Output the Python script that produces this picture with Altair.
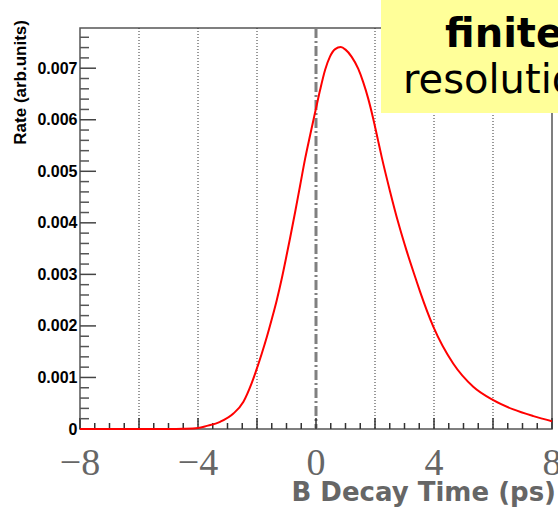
import altair as alt
import pandas as pd

# ---- data ----
t_vals = [-8, -7, -6, -5, -4.5, -4, -3.7, -3.25, -2.8, -2.46, -2.18, -2.0, -1.84, -1.67,
          -1.5, -1.33, -1.16, -1.0, -0.88, -0.71, -0.54, -0.37, -0.2, 0.0, 0.14, 0.31,
          0.47, 0.65, 0.84, 1.0, 1.21, 1.43, 1.6, 1.77, 1.94, 2.11, 2.23, 2.51, 2.79,
          3.07, 3.39, 3.53, 3.98, 4.65, 5.33, 6.01, 6.69, 7.37, 8.0]
rate = [0, 0, 0, 0, 0.000005, 0.00002, 0.00006, 0.00014, 0.0003, 0.00053, 0.00089, 0.00118,
        0.00146, 0.00178, 0.00213, 0.0025, 0.00292, 0.00336, 0.0037, 0.0042, 0.00472,
        0.00524, 0.0057, 0.00622, 0.00658, 0.00697, 0.00722, 0.00737, 0.00741, 0.00736,
        0.00722, 0.00699, 0.00673, 0.00641, 0.00602, 0.00558, 0.00527, 0.00461, 0.00400,
        0.00346, 0.0029, 0.00266, 0.00198, 0.00127, 0.00082, 0.00056, 0.00038, 0.00025,
        0.00015]

x_label_vals = [-8, -4, 0, 4, 8]
x_label_text = ["\u22128", "\u22124", "0", "4", "8"]
x_major_ticks = [-8, -6, -4, -2, 0, 2, 4, 6, 8]
x_minor_ticks = [v / 2 for v in range(-16, 17) if v % 4 != 0]
grid_lines = [-6, -4, -2, 2, 4, 6]
y_major_ticks = [0.001 * i for i in range(0, 8)]
y_minor_ticks = [0.0002 * i for i in range(0, 39) if i % 5 != 0]

W, H = 472, 401
xscale = alt.Scale(domain=[-8, 8], nice=False, zero=False)
yscale = alt.Scale(domain=[0, 0.00778], nice=False, zero=False)

curve_df = pd.DataFrame({"t": t_vals, "rate": rate})

yaxis = alt.Axis(
    values=y_major_ticks,
    labelExpr="datum.value == 0 ? '0' : format(datum.value, '.3f')",
    labelFont="Liberation Sans", labelFontWeight="bold", labelFontSize=16,
    labelColor="black", labelPadding=3, ticks=False, domain=False, grid=False,
    title=None,
)
xaxis = None

# grid lines (dotted)
grid = alt.Chart(pd.DataFrame({"t": grid_lines})).mark_rule(
    color="#333333", strokeWidth=1, strokeDash=[1, 2]
).encode(x=alt.X("t:Q", scale=xscale, axis=xaxis), y=alt.value(0), y2=alt.value(H))

zero_line = alt.Chart(pd.DataFrame({"t": [0]})).mark_rule(
    color="#808080", strokeWidth=3, strokeDash=[10, 3, 2, 3]
).encode(x=alt.X("t:Q", scale=xscale, axis=xaxis), y=alt.value(0), y2=alt.value(H))

xmaj = alt.Chart(pd.DataFrame({"t": x_major_ticks})).mark_rule(
    color="#333333", strokeWidth=1.5
).encode(x=alt.X("t:Q", scale=xscale, axis=xaxis), y=alt.value(H), y2=alt.value(H - 11))
xmin = alt.Chart(pd.DataFrame({"t": x_minor_ticks})).mark_rule(
    color="#333333", strokeWidth=1.5
).encode(x=alt.X("t:Q", scale=xscale, axis=xaxis), y=alt.value(H), y2=alt.value(H - 6))

ymaj = alt.Chart(pd.DataFrame({"v": y_major_ticks})).mark_rule(
    color="#444444", strokeWidth=1.5
).encode(y=alt.Y("v:Q", scale=yscale, axis=yaxis), x=alt.value(0), x2=alt.value(16))
ymin = alt.Chart(pd.DataFrame({"v": y_minor_ticks})).mark_rule(
    color="#555555", strokeWidth=1.5
).encode(y=alt.Y("v:Q", scale=yscale, axis=yaxis), x=alt.value(0), x2=alt.value(9))

curve = alt.Chart(curve_df).mark_line(
    color="#ff0000", strokeWidth=2, interpolate="monotone"
).encode(x=alt.X("t:Q", scale=xscale, axis=xaxis),
         y=alt.Y("rate:Q", scale=yscale, axis=yaxis))

xlabels = alt.Chart(pd.DataFrame({"t": x_label_vals, "lab": x_label_text})).mark_text(
    font="Liberation Serif", fontSize=38, color="#666666", align="center",
    baseline="alphabetic"
).encode(x=alt.X("t:Q", scale=xscale, axis=xaxis), y=alt.value(H + 46), text="lab:N")

xtitle = alt.Chart(pd.DataFrame({"s": ["B Decay Time (ps)"]})).mark_text(
    font="DejaVu Sans", fontWeight="bold", fontSize=26, color="#666666",
    align="right", baseline="alphabetic"
).encode(x=alt.value(476), y=alt.value(H + 72), text="s:N")

ytitle = alt.Chart(pd.DataFrame({"s": ["Rate (arb.units)"]})).mark_text(
    font="Liberation Sans", fontWeight="bold", fontSize=17, color="black",
    align="right", baseline="middle", angle=270
).encode(x=alt.value(-59), y=alt.value(-8), text="s:N")

box = alt.Chart(pd.DataFrame({"a": [0]})).mark_rect(color="#ffff99").encode(
    x=alt.value(301), x2=alt.value(560), y=alt.value(-28), y2=alt.value(85)
)
t1 = alt.Chart(pd.DataFrame({"s": ["finite"]})).mark_text(
    font="DejaVu Sans", fontWeight="bold", fontSize=40, color="black",
    align="left", baseline="alphabetic"
).encode(x=alt.value(365), y=alt.value(19), text="s:N")
t2 = alt.Chart(pd.DataFrame({"s": ["resolution"]})).mark_text(
    font="DejaVu Sans", fontSize=40, color="black",
    align="left", baseline="alphabetic"
).encode(x=alt.value(323), y=alt.value(65), text="s:N")

chart = alt.layer(
    grid, zero_line, xmaj, xmin, ymaj, ymin, curve, xlabels, xtitle, ytitle, box, t1, t2
).properties(
    width=W, height=H,
    autosize=alt.AutoSizeParams(type="none"),
    padding={"left": 80, "top": 28, "right": 6, "bottom": 85},
    background="white",
).configure_view(stroke="#555555", strokeWidth=1.5)

chart.save("out.html", embed_options={"renderer": "svg", "actions": False})
